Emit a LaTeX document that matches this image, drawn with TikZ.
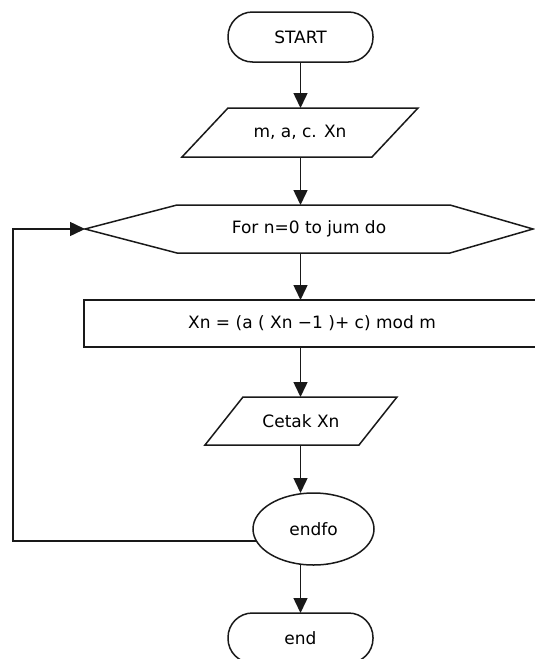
\documentclass[tikz,border=0pt]{standalone}
\usepackage{fontspec}
\setmainfont{DejaVu Sans}
\usetikzlibrary{arrows.meta,shapes.geometric}
\begin{document}
\begin{tikzpicture}[x=1pt,y=-1pt,
  line/.style={draw=black!90, line width=1.5pt},
  arr/.style={line, -{Triangle[length=15pt,width=14pt]}},
  txt/.style={inner sep=0pt, outer sep=0pt, text=black, font=\fontsize{17}{20}\selectfont},
  term/.style={txt, line, rounded corners=24.5pt, minimum width=145pt, minimum height=50pt},
  framed/.style={txt, line},
]
\useasboundingbox (0,0) rectangle (535,659);

% terminators, boxes and text holders
\node[term] (start) at (300.5,37) {START};
\node[txt, minimum width=236pt, minimum height=49pt] (in1) at (300,132.5) {m, a, c. Xn};
\node[txt, minimum width=448pt, minimum height=48pt] (loop) at (309,229) {For n=0 to jum do};
\node[framed, minimum width=456pt, minimum height=47pt] (proc) at (312,323.5) {Xn = (a ( Xn −1 )+ c) mod m};
\node[txt, minimum width=192pt, minimum height=48pt] (out1) at (301,421) {Cetak Xn};
\node[framed, ellipse, minimum width=121pt, minimum height=72pt] (endfo) at (313.5,529) {endfo};
\node[term] (stop) at (300.5,638) {end};

% input parallelogram
\draw[line] ([xshift=46pt]in1.north west) -- (in1.north east)
  -- ([xshift=-46pt]in1.south east) -- (in1.south west) -- cycle;
% loop hexagon
\draw[line] (loop.west) -- ([xshift=92pt]loop.north west)
  -- ([xshift=-83pt]loop.north east) -- (loop.east)
  -- ([xshift=-83pt]loop.south east) -- ([xshift=92pt]loop.south west) -- cycle;
% output parallelogram
\draw[line] ([xshift=38pt]out1.north west) -- (out1.north east)
  -- ([xshift=-38pt]out1.south east) -- (out1.south west) -- cycle;

% main flow
\draw[arr] (start.south) -- (start.south |- in1.north);
\draw[arr] (in1.south -| start.south) -- (loop.north -| start.south);
\draw[arr] (loop.south -| start.south) -- (proc.north -| start.south);
\draw[arr] (proc.south -| start.south) -- (out1.north -| start.south);
\draw[arr] (out1.south -| start.south) -- (endfo.north -| start.south);
\draw[arr] (endfo.south -| start.south) -- (stop.north);

% loop back
\coordinate (back) at (13,229);
\draw[arr] (endfo.192) -| (back) -- (loop.west);
\end{tikzpicture}
\end{document}
